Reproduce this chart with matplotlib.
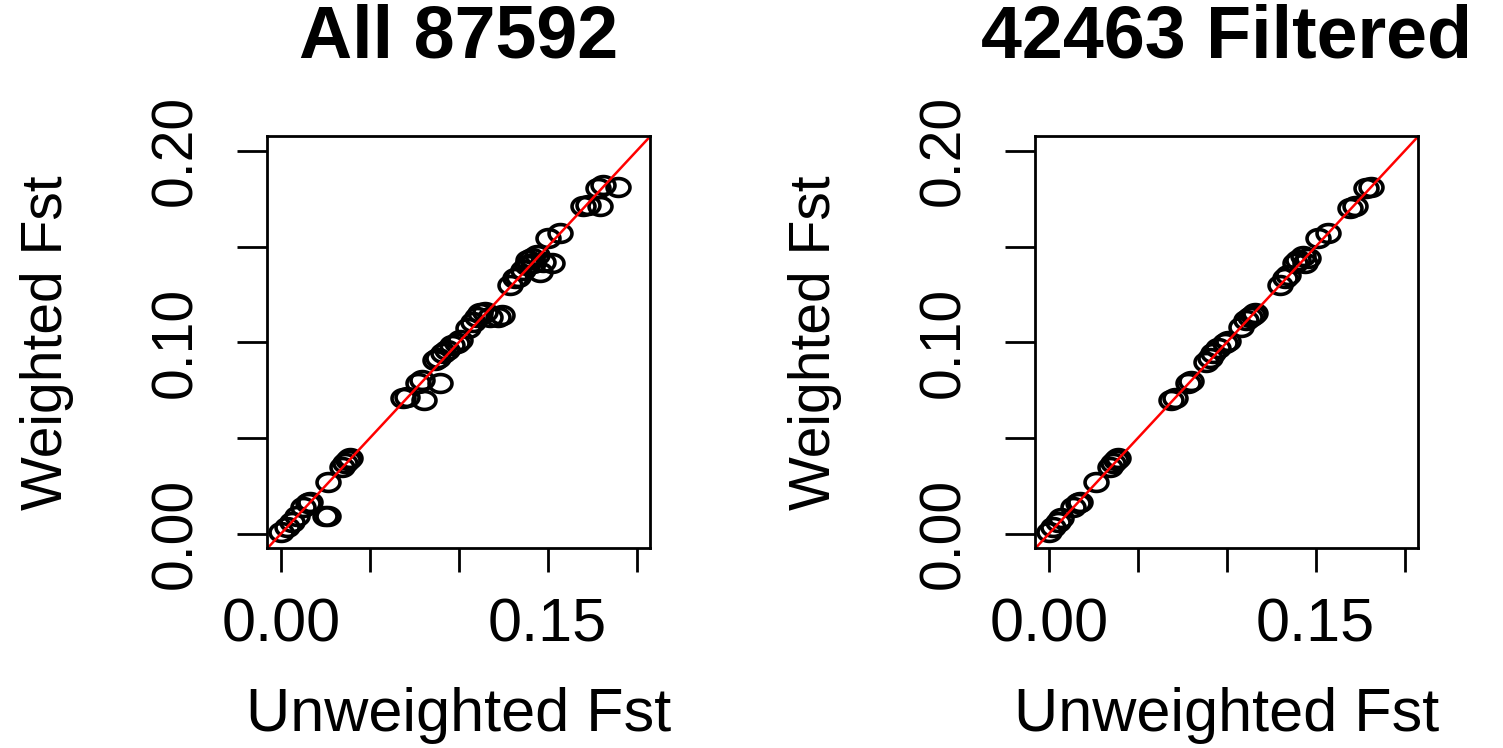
import numpy as np
import matplotlib
matplotlib.use("Agg")
from matplotlib import pyplot as plt
from matplotlib.path import Path

plt.rcParams['font.family'] = ['Liberation Sans', 'DejaVu Sans']

# values
titles = ["All 87592", "42463 Filtered"]
x_label = "Unweighted Fst"
y_label = "Weighted Fst"
tick_vals = [0.00, 0.05, 0.10, 0.15, 0.20]
x_tick_labels = ["0.00", "", "", "0.15", ""]
y_tick_labels = ["0.00", "", "0.10", "", "0.20"]

all_unw = [0.000, 0.0034, 0.0062, 0.009, 0.0127, 0.0155, 0.0165, 0.0249, 0.0268, 0.0268,
           0.0343, 0.0361, 0.038, 0.039, 0.0689, 0.0708, 0.0774, 0.0792, 0.0807, 0.0895,
           0.0867, 0.0886, 0.0914, 0.0933, 0.0961, 0.0989, 0.1008, 0.1055, 0.1083, 0.1101,
           0.112, 0.1148, 0.1176, 0.1223, 0.1242, 0.1289, 0.1317, 0.1335, 0.1364, 0.1382,
           0.1392, 0.141, 0.1438, 0.142, 0.1457, 0.1476, 0.1523, 0.1504, 0.157, 0.1701,
           0.1729, 0.1794, 0.1785, 0.1813, 0.1897]
all_w = [0.0012, 0.0038, 0.0064, 0.0091, 0.0143, 0.016, 0.0169, 0.0091, 0.0096, 0.0273,
         0.0352, 0.0369, 0.0387, 0.0395, 0.0709, 0.0717, 0.0787, 0.0804, 0.070, 0.0787,
         0.0909, 0.0917, 0.0944, 0.0961, 0.0987, 0.0996, 0.1013, 0.1074, 0.1109, 0.1135,
         0.1153, 0.1161, 0.1135, 0.1135, 0.1144, 0.130, 0.1335, 0.1344, 0.1379, 0.1405,
         0.1431, 0.144, 0.1457, 0.1414, 0.137, 0.1422, 0.1414, 0.1544, 0.157, 0.171,
         0.1718, 0.171, 0.1805, 0.1823, 0.1814]

filt_unw = [0.000, 0.0024, 0.0052, 0.0071, 0.0137, 0.0165, 0.0174, 0.0268, 0.0343, 0.0361,
            0.038, 0.039, 0.0689, 0.0708, 0.0783, 0.0802, 0.0886, 0.0905, 0.0923, 0.0951,
            0.0989, 0.1008, 0.1083, 0.1111, 0.1129, 0.1148, 0.1158, 0.1298, 0.1326, 0.1345,
            0.1382, 0.1401, 0.1429, 0.1457, 0.1438, 0.1513, 0.157, 0.1691, 0.1719, 0.1785,
            0.1813]
filt_w = [0.0012, 0.0038, 0.0064, 0.0082, 0.0143, 0.016, 0.0169, 0.0273, 0.0352, 0.0369,
          0.0387, 0.0395, 0.070, 0.0709, 0.0787, 0.0796, 0.090, 0.0917, 0.0944, 0.097,
          0.0996, 0.1005, 0.1083, 0.1118, 0.1135, 0.1144, 0.1153, 0.130, 0.1335, 0.1353,
          0.1414, 0.1431, 0.1449, 0.144, 0.1414, 0.1544, 0.157, 0.1701, 0.171, 0.1805,
          0.1814]

# the original is stretched sideways, so the open circles come out as ellipses
t = np.linspace(0, 2 * np.pi, 60)
ellipse = Path(np.column_stack([np.cos(t), 0.78 * np.sin(t)]), closed=True)

W, H = 1503, 748
fig = plt.figure(figsize=(W / 100, H / 100), dpi=100)

panels = [(266.7, titles[0], all_unw, all_w), (1034.7, titles[1], filt_unw, filt_w)]
for left, title, xs, ys in panels:
    ax = fig.add_axes([left / W, 1 - 547.7 / H, 383.3 / W, 411.7 / H])
    ax.plot(xs, ys, linestyle='none', marker=ellipse, markersize=16.5,
            markerfacecolor='none', markeredgecolor='black', markeredgewidth=2.6)
    ax.axline((0, 0), slope=1, color='red', lw=1.8)
    ax.set_xlim(-0.0079, 0.2075)
    ax.set_ylim(-0.0072, 0.2078)
    for s in ax.spines.values():
        s.set_linewidth(2.0)
    ax.set_xticks(tick_vals)
    ax.set_xticklabels(x_tick_labels)
    ax.set_yticks(tick_vals)
    ax.set_yticklabels(y_tick_labels, rotation=90, va='center')
    ax.tick_params(axis='x', length=17, width=2.0, pad=19, labelsize=44)
    ax.tick_params(axis='y', length=21.5, width=2.0, pad=24, labelsize=41)
    cx = (left + 383.3 / 2) / W
    fig.text(cx, 1 - 38 / H, title, ha='center', va='center',
             fontsize=53, fontweight='bold')
    fig.text(cx, 1 - 716 / H, x_label, ha='center', va='center', fontsize=44)
    fig.text((left - 220) / W, 1 - 343 / H, y_label, ha='center', va='center',
             rotation=90, fontsize=41)

fig.savefig('out.png', dpi=100)
